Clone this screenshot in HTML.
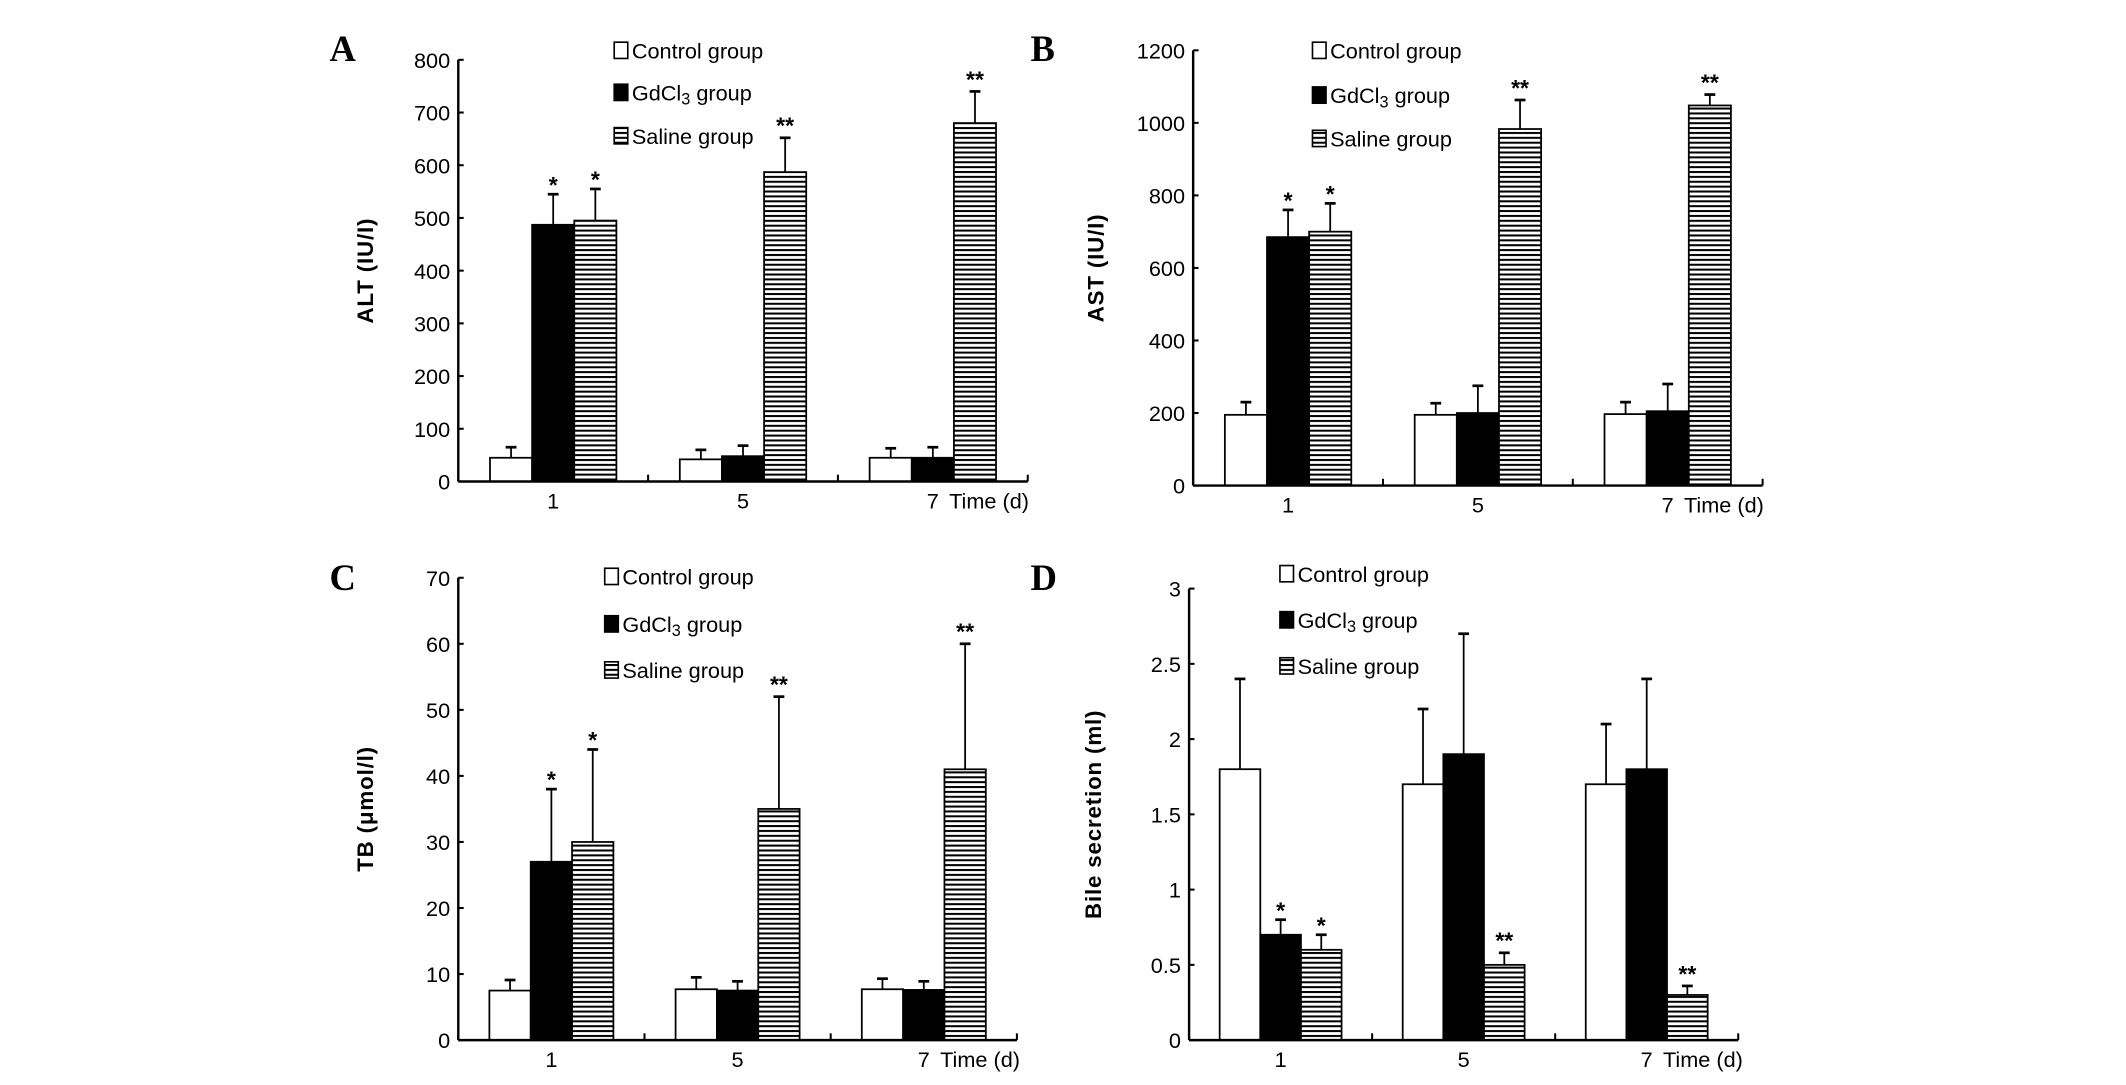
<!DOCTYPE html>
<html><head><meta charset="utf-8"><style>
html,body{margin:0;padding:0;background:#fff;}
svg{display:block;}
text{font-family:"Liberation Sans Narrow","Liberation Sans",sans-serif;fill:#000;}
.panel{font-family:"Liberation Serif",serif;font-weight:bold;font-size:27px;}
.ylab{font-family:"Liberation Sans",sans-serif;font-weight:bold;font-size:16.5px;letter-spacing:0.6px;}
.tick{font-size:16px;}
.leg{font-size:16px;}
.star{font-size:17px;font-weight:bold;}
</style></head><body>
<svg id="fig" width="2126" height="1085" viewBox="0 0 1568 800" xmlns="http://www.w3.org/2000/svg">
<defs>
<pattern id="hatch" patternUnits="userSpaceOnUse" width="8" height="3.6">
<rect width="8" height="3.6" fill="#fff"/>
<rect y="0" width="8" height="1.5" fill="#000"/>
</pattern>
</defs>
</svg>
<script>
const days = ["1","5","7"];
const seriesNames = ["Control group","GdCl3 group","Saline group"];
// Panel A: ALT
const altControl = [45,42,45], altControlErr = [20,18,18];
const altGd = [487,48,45], altGdErr = [58,20,20];
const altSaline = [495,587,680], altSalineErr = [60,65,60];
const altTicks = [0,100,200,300,400,500,600,700,800];
const altStars = [["","*","*"],["","","**"],["","","**"]];
// Panel B: AST
const astControl = [195,195,197], astControlErr = [35,32,33];
const astGd = [685,200,205], astGdErr = [75,75,75];
const astSaline = [700,983,1048], astSalineErr = [78,80,30];
const astTicks = [0,200,400,600,800,1000,1200];
const astStars = [["","*","*"],["","","**"],["","","**"]];
// Panel C: TB
const tbControl = [7.5,7.7,7.7], tbControlErr = [1.6,1.8,1.6];
const tbGd = [27,7.5,7.6], tbGdErr = [11,1.4,1.3];
const tbSaline = [30,35,41], tbSalineErr = [14,17,19];
const tbTicks = [0,10,20,30,40,50,60,70];
const tbStars = [["","*","*"],["","","**"],["","","**"]];
// Panel D: Bile
const bileControl = [1.8,1.7,1.7], bileControlErr = [0.6,0.5,0.4];
const bileGd = [0.7,1.9,1.8], bileGdErr = [0.1,0.8,0.6];
const bileSaline = [0.6,0.5,0.3], bileSalineErr = [0.1,0.08,0.06];
const bileTicks = [0,0.5,1,1.5,2,2.5,3];
const bileStars = [["","*","*"],["","","**"],["","","**"]];

const NS = "http://www.w3.org/2000/svg";
const svg = document.getElementById("fig");
function el(tag, attrs, parent, txt){
  const e = document.createElementNS(NS, tag);
  for (const k in attrs) e.setAttribute(k, attrs[k]);
  if (txt !== undefined) e.textContent = txt;
  (parent || svg).appendChild(e);
  return e;
}
const fills = ["#fff","#000","url(#hatch)"];

function panel(cfg){
  const g = el("g", {});
  
  
  const {x0, x1, yTop, yBot, ticks} = cfg;
  const vmax = ticks[ticks.length-1];
  const ys = v => yBot - (v / vmax) * (yBot - yTop);
  const gw = (x1 - x0) / 3;
  const bw = gw * 0.222;
  const off = (gw - 3*bw)/2;
  const pl = el("text", {x: cfg.letterX, y: cfg.letterY, class: "panel"}, g, cfg.letter);
  
  
  const yl = el("text", {x: 0, y: 0, class: "ylab", "text-anchor": "middle", transform: `translate(${cfg.ylabX},${(yTop+yBot)/2}) rotate(-90)`}, g, cfg.ylab);
  
  
  const series = [cfg.c, cfg.g, cfg.s];
  const errs = [cfg.ce, cfg.ge, cfg.se];
  for (let i = 0; i < 3; i++){
    for (let k = 0; k < 3; k++){
      const bx = x0 + i*gw + off + k*bw;
      const v = series[k][i];
      const yv = ys(v);
      const ye = ys(v + errs[k][i]);
      const cx = bx + bw/2;
      const eb = el("line", {x1: cx, y1: yv, x2: cx, y2: ye, stroke: "#000", "stroke-width": 1.3}, g);
      
      
      el("line", {x1: cx-4, y1: ye, x2: cx+4, y2: ye, stroke: "#000", "stroke-width": 2}, g);
      const r = el("rect", {x: bx, y: yv, width: bw, height: yBot - yv, fill: fills[k], stroke: "#000", "stroke-width": 1.3}, g);
      
      
      const st = cfg.stars[i][k];
      if (st){
        const s = el("text", {x: cx, y: ye - 3 + (st.length===2?0:2), class: "star", "text-anchor": "middle"}, g, st);
        
        
      }
    }
    const xl = el("text", {x: x0 + i*gw + gw/2, y: yBot + 20, class: "tick", "text-anchor": "middle"}, g, days[i]);
    
    
    if (i > 0) el("line", {x1: x0 + i*gw, y1: yBot, x2: x0 + i*gw, y2: yBot - 5, stroke: "#000", "stroke-width": 1.5}, g);
  }
  el("line", {x1: x1, y1: yBot, x2: x1, y2: yBot - 5, stroke: "#000", "stroke-width": 1.5}, g);
  const tt = el("text", {x: x0 + 2.5*gw + 12, y: yBot + 20, class: "tick"}, g, "Time (d)");
  
  
  const ya = el("line", {x1: x0, y1: yTop, x2: x0, y2: yBot, stroke: "#000", "stroke-width": 1.8}, g);
  
  
  const xa = el("line", {x1: x0, y1: yBot, x2: x1, y2: yBot, stroke: "#000", "stroke-width": 1.8}, g);
  
  
  for (const t of ticks){
    el("line", {x1: x0, y1: ys(t), x2: x0 + 4, y2: ys(t), stroke: "#000", "stroke-width": 1.5}, g);
    const tl = el("text", {x: x0 - 6, y: ys(t) + 6, class: "tick", "text-anchor": "end"}, g, String(t));
    
    
  }
  const lg = el("g", {}, g);
  
  
  for (let k = 0; k < 3; k++){
    const ly = cfg.legY[k];
    el("rect", {x: cfg.legX, y: ly - 6, width: 10, height: 12, fill: k===2 ? "url(#hatch)" : fills[k], stroke: "#000", "stroke-width": 1.2}, lg);
    const t = el("text", {x: cfg.legX + 13, y: ly + 6, class: "leg"}, lg);
    
    
    if (k === 1){
      t.appendChild(document.createTextNode("GdCl"));
      el("tspan", {"font-size": "12", dy: "3"}, t, "3");
      el("tspan", {dy: "-3"}, t, " group");
    } else t.textContent = seriesNames[k];
  }
}

panel({name:"panel-a-alt", letter:"A", letterX:243, letterY:45, ylab:"ALT (IU/I)", ylabX:275,
  x0:338, x1:758, yTop:44, yBot:355, ticks:altTicks, c:altControl, ce:altControlErr, g:altGd, ge:altGdErr, s:altSaline, se:altSalineErr, stars:altStars,
  legX:453, legY:[37,68,100]});
panel({name:"panel-b-ast", letter:"B", letterX:760, letterY:45, ylab:"AST (IU/I)", ylabX:814,
  x0:880, x1:1300, yTop:37, yBot:358, ticks:astTicks, c:astControl, ce:astControlErr, g:astGd, ge:astGdErr, s:astSaline, se:astSalineErr, stars:astStars,
  legX:968, legY:[37,70,102]});
panel({name:"panel-c-tb", letter:"C", letterX:243, letterY:435, ylab:"TB (\u03bcmol/l)", ylabX:275,
  x0:338, x1:750, yTop:426, yBot:767, ticks:tbTicks, c:tbControl, ce:tbControlErr, g:tbGd, ge:tbGdErr, s:tbSaline, se:tbSalineErr, stars:tbStars,
  legX:446, legY:[425,460,494]});
panel({name:"panel-d-bile", letter:"D", letterX:760, letterY:435, ylab:"Bile secretion (ml)", ylabX:812,
  x0:877, x1:1282, yTop:434, yBot:767, ticks:bileTicks, c:bileControl, ce:bileControlErr, g:bileGd, ge:bileGdErr, s:bileSaline, se:bileSalineErr, stars:bileStars,
  legX:944, legY:[423,457,491]});
</script>
</body></html>
